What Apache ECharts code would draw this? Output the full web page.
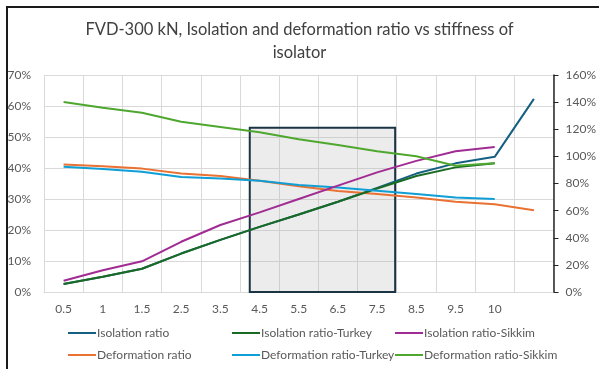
<!DOCTYPE html>
<html>
<head>
<meta charset="utf-8">
<script src="https://cdn.jsdelivr.net/npm/echarts@6/dist/echarts.min.js"></script>
<style>
  html, body { margin: 0; padding: 0; background: #fff; }
  #chart { width: 599px; height: 369px; }
</style>
</head>
<body>
<div id="chart"></div>
<script>
// Isolator stiffness steps (last slot has no label)
var stiffness = ['0.5', '1', '1.5', '2.5', '3.5', '4.5', '5.5', '6.5', '7.5', '8.5', '9.5', '10', ''];

// Ratios in percent
var isolationRatio        = [2.6, 4.9, 7.5, 12.4, 16.8, 21.0, 25.0, 29.1, 33.6, 38.2, 41.5, 43.6, 62.3];
var deformationRatio      = [41.1, 40.6, 39.8, 38.2, 37.4, 35.9, 34.1, 32.6, 31.6, 30.5, 29.1, 28.3, 26.4];
var isolationRatioTurkey  = [2.6, 4.9, 7.5, 12.4, 16.8, 21.0, 25.0, 29.1, 33.4, 37.4, 40.2, 41.5, null];
var deformationRatioTurkey= [40.4, 39.7, 38.8, 37.1, 36.6, 35.9, 34.5, 33.7, 32.7, 31.6, 30.5, 30.0, null];
var isolationRatioSikkim  = [3.6, 7.0, 9.9, 16.2, 21.6, 25.7, 30.0, 34.3, 38.6, 42.3, 45.4, 46.8, null];
var deformationRatioSikkim= [61.3, 59.4, 57.8, 54.9, 53.2, 51.5, 49.3, 47.4, 45.4, 43.8, 40.7, 41.5, null];

// Left and right axis ticks (percent)
var leftTicks = { min: 0, max: 70, step: 10 };
var rightTicks = { min: 0, max: 160, step: 20 };

// Highlighted stiffness band, in category-slot units from the left edge, and its upper bound in percent
var band = { from: 5.25, to: 8.96, top: 53 };

var colors = {
  'Isolation ratio': '#156082',
  'Deformation ratio': '#E97132',
  'Isolation ratio-Turkey': '#196B24',
  'Deformation ratio-Turkey': '#0F9ED5',
  'Isolation ratio-Sikkim': '#A02B93',
  'Deformation ratio-Sikkim': '#4EA72E'
};

var seriesData = [
  ['Isolation ratio', isolationRatio],
  ['Deformation ratio', deformationRatio],
  ['Isolation ratio-Turkey', isolationRatioTurkey],
  ['Deformation ratio-Turkey', deformationRatioTurkey],
  ['Isolation ratio-Sikkim', isolationRatioSikkim],
  ['Deformation ratio-Sikkim', deformationRatioSikkim]
];

var font = 'Lato, "Noto Sans", sans-serif';
var labelColor = '#595959';
var gridColor = '#d9d9d9';

var series = seriesData.map(function (s) {
  return {
    name: s[0],
    type: 'line',
    data: s[1],
    xAxisIndex: 0,
    yAxisIndex: 0,
    smooth: false,
    symbol: 'none',
    showSymbol: false,
    connectNulls: false,
    color: colors[s[0]],
    lineStyle: { width: 2, color: colors[s[0]] },
    z: 3
  };
});

// Translucent box laid over the chosen stiffness range (own layer, above the lines)
series.push({
  name: 'band',
  type: 'line',
  xAxisIndex: 1,
  yAxisIndex: 0,
  data: [],
  symbol: 'none',
  zlevel: 1,
  z: 10,
  silent: true,
  markArea: {
    silent: true,
    itemStyle: {
      color: 'rgba(175,175,175,0.24)',
      borderColor: '#1b3443',
      borderWidth: 2
    },
    data: [[{ xAxis: band.from, yAxis: 0 }, { xAxis: band.to, yAxis: band.top }]]
  }
});

function legendColumn(names, left) {
  return {
    data: names,
    left: left,
    top: 322,
    orient: 'vertical',
    itemWidth: 28,
    itemHeight: 10,
    itemGap: 10,
    icon: 'path://M0,0 L28,0 L28,2 L0,2 Z',
    textStyle: { color: labelColor, fontSize: 12, fontFamily: font, padding: [0, 0, 0, -4] }
  };
}

var chart = echarts.init(document.getElementById('chart'), null, { renderer: 'canvas' });
chart.setOption({
  animation: false,
  backgroundColor: '#ffffff',
  title: {
    text: 'FVD-300 kN, Isolation and deformation ratio vs stiffness of\nisolator',
    left: 'center',
    top: 13,
    textStyle: { fontFamily: font, fontSize: 16.5, fontWeight: 'normal', color: '#404040', lineHeight: 23 }
  },
  legend: [
    legendColumn(['Isolation ratio', 'Deformation ratio'], 63),
    legendColumn(['Isolation ratio-Turkey', 'Deformation ratio-Turkey'], 227),
    legendColumn(['Isolation ratio-Sikkim', 'Deformation ratio-Sikkim'], 390)
  ],
  grid: { left: 44, right: 45, top: 75, bottom: 77, containLabel: false },
  xAxis: [
    {
      type: 'category',
      data: stiffness,
      boundaryGap: true,
      axisLine: { show: true, lineStyle: { color: gridColor, width: 1 } },
      axisTick: { show: false },
      axisLabel: { color: labelColor, fontSize: 12, fontFamily: font, margin: 11, interval: 0 },
      splitLine: { show: true, interval: 0, lineStyle: { color: gridColor, width: 1 } }
    },
    {
      type: 'value',
      min: 0,
      max: stiffness.length,
      show: false,
      splitLine: { show: false }
    }
  ],
  yAxis: [
    {
      type: 'value',
      min: leftTicks.min,
      max: leftTicks.max,
      interval: leftTicks.step,
      axisLine: { show: false },
      axisTick: { show: false },
      axisLabel: { formatter: '{value}%', color: labelColor, fontSize: 12, fontFamily: font, margin: 13 },
      splitLine: { show: true, lineStyle: { color: gridColor, width: 1 } }
    },
    {
      type: 'value',
      position: 'right',
      min: rightTicks.min,
      max: rightTicks.max,
      interval: rightTicks.step,
      axisLine: { show: true, lineStyle: { color: '#262626', width: 1.5 } },
      axisTick: { show: true, inside: false, length: 5, lineStyle: { color: '#262626', width: 1 } },
      axisLabel: { formatter: '{value}%', color: labelColor, fontSize: 12, fontFamily: font, margin: 12 },
      splitLine: { show: false }
    }
  ],
  graphic: [
    {
      type: 'polyline',
      silent: true,
      shape: { points: [[7, 369], [7, 7], [599, 7]] },
      style: { stroke: '#1a1a1a', lineWidth: 2, fill: null }
    }
  ],
  series: series
});
</script>
</body>
</html>
